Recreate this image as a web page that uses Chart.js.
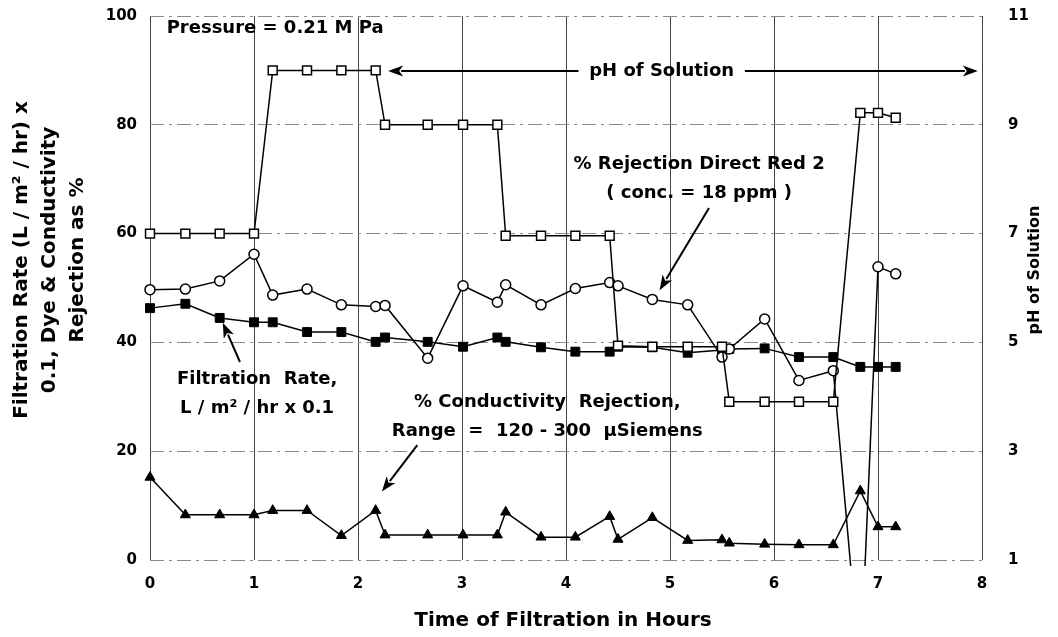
<!DOCTYPE html>
<html>
<head>
<meta charset="utf-8">
<script src="https://cdn.jsdelivr.net/npm/chart.js@4/dist/chart.umd.min.js"></script>
<style>
  html, body { margin: 0; padding: 0; background: #fff; }
  #wrap { width: 1058px; height: 637px; position: relative; }
</style>
</head>
<body>
<div id="wrap"><canvas id="filtrationChart"></canvas></div>
<script>
// =============================
// DATA
// =============================
const hours = [0, 0.34, 0.67, 1.0, 1.18, 1.51, 1.84, 2.17, 2.26, 2.67, 3.01, 3.34, 3.42, 3.76,
  4.09, 4.42, 4.50, 4.83, 5.17, 5.50, 5.57, 5.91, 6.24, 6.57, 6.83, 7.0, 7.17];

// pH of solution (right axis)
const phValues = [7, 7, 7, 7, 10, 10, 10, 10, 9, 9, 9, 9, 6.96, 6.96, 6.96, 6.96,
  4.94, 4.92, 4.92, 4.92, 3.91, 3.91, 3.91, 3.91, 9.22, 9.22, 9.13];

// % rejection Direct Red 2
const dyeRejection = [49.7, 49.8, 51.3, 56.2, 48.7, 49.8, 46.9, 46.6, 46.8, 37.1, 50.4, 47.4,
  50.6, 46.9, 49.9, 51.0, 50.4, 47.9, 46.9, 37.3, 38.8, 44.3, 33.0, 34.8, -21, 53.9, 52.6];

// filtration rate, L/m2/hr x 0.1
const filtrationRate = [46.3, 47.1, 44.5, 43.7, 43.7, 41.9, 41.9, 40.1, 40.9, 40.1, 39.2, 40.9,
  40.1, 39.1, 38.3, 38.3, 39.2, 39.1, 38.1, 38.6, 38.8, 38.9, 37.3, 37.3, 35.5, 35.5, 35.5];

// % conductivity rejection
const condRejection = [15.2, 8.3, 8.3, 8.3, 9.1, 9.1, 4.5, 9.1, 4.6, 4.6, 4.6, 4.6, 8.8, 4.2,
  4.2, 8.0, 3.8, 7.8, 3.6, 3.7, 3.1, 2.9, 2.8, 2.8, 12.7, 6.1, 6.1];

const xTicks = [0, 1, 2, 3, 4, 5, 6, 7, 8];
const leftTicks = [0, 20, 40, 60, 80, 100];
const rightTicks = [1, 3, 5, 7, 9, 11];

// =============================
// ANNOTATIONS (in data units: hours / left axis)
// =============================
const labels = [
  { lines: ["Pressure = 0.21 M Pa"], x: 0.16, y: 97.8, align: "left" },
  { lines: ["pH of Solution"], x: 4.92, y: 89.9, align: "center" },
  { lines: ["% Rejection Direct Red 2", "( conc. = 18 ppm )"], x: 5.28, y: 72.8, align: "center" },
  { lines: ["Filtration  Rate,", "L / m\u00B2 / hr x 0.1"], x: 1.03, y: 33.3, align: "center" },
  { lines: ["% Conductivity  Rejection,", "Range  =  120 - 300  \u00B5Siemens"], x: 3.82, y: 28.9, align: "center" }
];

const arrows = [
  { from: [4.12, 89.9], to: [2.29, 89.9] },
  { from: [5.72, 89.9], to: [7.96, 89.9] },
  { from: [5.375, 64.7], to: [4.90, 49.6] },
  { from: [0.865, 36.4], to: [0.70, 43.6] },
  { from: [2.57, 21.1], to: [2.23, 12.6] }
];

function toPoints(values) {
  return hours.map(function (h, i) { return { x: h, y: values[i] }; });
}

function drawArrow(ctx, x1, y1, x2, y2) {
  let ang = Math.atan2(y2 - y1, x2 - x1);
  let len = 15, half = 5.5;
  ctx.beginPath();
  ctx.moveTo(x1, y1);
  ctx.lineTo(x2 - Math.cos(ang) * (len - 2), y2 - Math.sin(ang) * (len - 2));
  ctx.stroke();
  ctx.beginPath();
  ctx.moveTo(x2, y2);
  ctx.lineTo(x2 - Math.cos(ang) * len - Math.sin(ang) * half, y2 - Math.sin(ang) * len + Math.cos(ang) * half);
  ctx.lineTo(x2 - Math.cos(ang) * (len - 4), y2 - Math.sin(ang) * (len - 4));
  ctx.lineTo(x2 - Math.cos(ang) * len + Math.sin(ang) * half, y2 - Math.sin(ang) * len - Math.cos(ang) * half);
  ctx.closePath();
  ctx.fill();
}

const FONT = "'DejaVu Sans', 'Liberation Sans', Arial, sans-serif";

const notesPlugin = {
  id: "notes",
  afterDraw(chart) {
    let ctx = chart.ctx;
    let xs = chart.scales.x, ys = chart.scales.y;
    ctx.save();
    ctx.fillStyle = "#000";
    ctx.strokeStyle = "#000";
    ctx.lineWidth = 2;
    ctx.font = "bold 18px " + FONT;
    ctx.textBaseline = "middle";

    labels.forEach(function (l) {
      ctx.textAlign = l.align;
      let px = xs.getPixelForValue(l.x);
      let py = ys.getPixelForValue(l.y);
      l.lines.forEach(function (t, i) {
        ctx.fillText(t, px, py + i * 29);
      });
    });

    arrows.forEach(function (a) {
      drawArrow(ctx,
        xs.getPixelForValue(a.from[0]), ys.getPixelForValue(a.from[1]),
        xs.getPixelForValue(a.to[0]), ys.getPixelForValue(a.to[1]));
    });

    // axis titles
    ctx.font = "bold 20px " + FONT;
    ctx.textAlign = "center";
    ctx.fillText("Time of Filtration in Hours", 563, 621);

    ctx.save();
    ctx.translate(0, 260);
    ctx.rotate(-Math.PI / 2);
    ctx.fillText("Filtration Rate (L / m\u00B2 / hr) x", 0, 22);
    ctx.fillText("0.1, Dye & Conductivity", 0, 50);
    ctx.fillText("Rejection as %", 0, 78);
    ctx.restore();

    ctx.font = "bold 16px " + FONT;
    ctx.save();
    ctx.translate(1035, 270);
    ctx.rotate(-Math.PI / 2);
    ctx.fillText("pH of Solution", 0, 0);
    ctx.restore();

    ctx.restore();
  }
};

// =============================
// CHART
// =============================
const clipBox = { left: 10, top: 10, right: 10, bottom: 6 };
const tickFont = { family: FONT, size: 15, weight: "bold" };

new Chart(document.getElementById("filtrationChart"), {
  type: "line",
  data: {
    datasets: [
      {
        label: "pH of Solution",
        data: toPoints(phValues),
        yAxisID: "y2",
        borderColor: "#000",
        borderWidth: 1.5,
        pointStyle: "rect",
        pointRadius: 6.3,
        pointBackgroundColor: "#fff",
        pointBorderColor: "#000",
        pointBorderWidth: 1.5,
        clip: clipBox
      },
      {
        label: "% Rejection Direct Red 2",
        data: toPoints(dyeRejection),
        yAxisID: "y",
        borderColor: "#000",
        borderWidth: 1.5,
        pointStyle: "circle",
        pointRadius: [5, 5, 5, 5, 5, 5, 5, 5, 5, 5, 5, 5, 5, 5, 5, 5, 5, 5, 5, 5, 5, 5, 5, 5, 0, 5, 5],
        pointBackgroundColor: "#fff",
        pointBorderColor: "#000",
        pointBorderWidth: 1.5,
        clip: clipBox
      },
      {
        label: "Filtration Rate",
        data: toPoints(filtrationRate),
        yAxisID: "y",
        borderColor: "#000",
        borderWidth: 1.5,
        pointStyle: "rect",
        pointRadius: 6.3,
        pointBackgroundColor: "#000",
        pointBorderColor: "#000",
        pointBorderWidth: 1,
        clip: clipBox
      },
      {
        label: "% Conductivity Rejection",
        data: toPoints(condRejection),
        yAxisID: "y",
        borderColor: "#000",
        borderWidth: 1.5,
        pointStyle: "triangle",
        pointRadius: 5.8,
        pointBackgroundColor: "#000",
        pointBorderColor: "#000",
        pointBorderWidth: 1,
        clip: clipBox
      }
    ]
  },
  options: {
    responsive: true,
    maintainAspectRatio: false,
    animation: false,
    events: [],
    layout: { padding: { top: 16, left: 0, right: 0, bottom: 0 } },
    plugins: {
      legend: { display: false },
      tooltip: { enabled: false }
    },
    elements: { line: { tension: 0 } },
    scales: {
      x: {
        type: "linear",
        min: 0, max: 8,
        afterBuildTicks: function (s) { s.ticks = xTicks.map(function (v) { return { value: v }; }); },
        afterFit: function (s) { s.height = 77; s.paddingLeft = 0; s.paddingRight = 0; },
        grid: { color: "#444", lineWidth: 1, drawTicks: false },
        border: { display: false },
        ticks: { color: "#000", font: tickFont, padding: 15 }
      },
      y: {
        position: "left",
        min: 0, max: 100,
        afterBuildTicks: function (s) { s.ticks = leftTicks.map(function (v) { return { value: v }; }); },
        afterFit: function (s) { s.width = 150; s.paddingTop = 0; s.paddingBottom = 0; },
        grid: { color: "#8a8a8a", lineWidth: 1, drawTicks: false },
        border: { display: false, dash: [14, 5, 3, 5] },
        ticks: { color: "#000", font: tickFont, padding: 13 }
      },
      y2: {
        position: "right",
        min: 1, max: 11,
        afterBuildTicks: function (s) { s.ticks = rightTicks.map(function (v) { return { value: v }; }); },
        afterFit: function (s) { s.width = 76; s.paddingTop = 0; s.paddingBottom = 0; },
        grid: { display: false, drawTicks: false },
        border: { display: false },
        ticks: { color: "#000", font: tickFont, padding: 26 }
      }
    }
  },
  plugins: [notesPlugin]
});
</script>
</body>
</html>
